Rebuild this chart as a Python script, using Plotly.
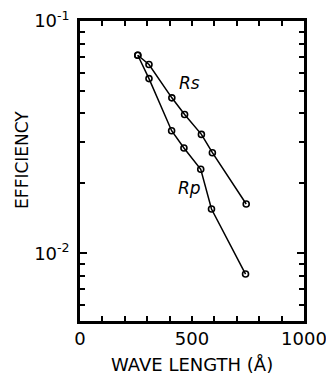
import plotly.graph_objects as go

# Data (wavelength in Angstrom, efficiency)
wave_rs = [258, 308, 410, 467, 542, 591, 742]
eff_rs = [0.0712, 0.0650, 0.0467, 0.0396, 0.0325, 0.0271, 0.0163]
wave_rp = [258, 308, 409, 464, 539, 587, 739]
eff_rp = [0.0712, 0.0565, 0.0337, 0.0284, 0.0230, 0.0155, 0.00814]

x_tickvals = [0, 500, 1000]
x_ticktext = ["0", "500", "1000"]
x_minorvals = [100, 200, 300, 400, 600, 700, 800, 900]
y_tickvals = [0.01, 0.1]
y_ticktext = ["10<sup>-2</sup>", "10<sup>-1</sup>"]
y_minorvals = [0.006, 0.007, 0.008, 0.009, 0.02, 0.03, 0.04, 0.05,
               0.06, 0.07, 0.08, 0.09]

FONT = "DejaVu Sans"

fig = go.Figure()
for xs, ys in [(wave_rs, eff_rs), (wave_rp, eff_rp)]:
    fig.add_trace(go.Scatter(
        x=xs, y=ys, mode="lines+markers",
        line=dict(color="black", width=1.5),
        marker=dict(symbol="circle-open", size=6, color="black",
                    line=dict(width=1.6, color="black")),
        showlegend=False, cliponaxis=False,
    ))

# The page body has an 8px default margin, so the figure is 8px smaller
fig.update_layout(
    width=326, height=368,
    margin=dict(l=72, r=30, t=13, b=55, autoexpand=False),
    paper_bgcolor="white", plot_bgcolor="white",
    font=dict(family=FONT, color="black", size=16),
    xaxis=dict(
        range=[0, 1000], tickvals=x_tickvals, ticktext=x_ticktext, tickangle=0,
        ticks="inside", ticklen=5, tickwidth=1.5, tickcolor="black",
        minor=dict(tickmode="array", tickvals=x_minorvals, ticks="inside",
                   ticklen=5, tickwidth=1.5, tickcolor="black", showgrid=False),
        showline=True, linewidth=2.5, linecolor="black", mirror="ticks",
        showgrid=False, zeroline=False, automargin=False,
        ticklabeloverflow="allow",
        tickfont=dict(family=FONT, size=18),
    ),
    yaxis=dict(
        type="log", range=[-2.2916, -0.9999], tickvals=y_tickvals, ticktext=y_ticktext,
        ticks="inside", ticklen=7, tickwidth=1.5, tickcolor="black",
        minor=dict(tickmode="array", tickvals=y_minorvals, ticks="inside",
                   ticklen=5, tickwidth=1.5, tickcolor="black", showgrid=False),
        showline=True, linewidth=2.5, linecolor="black", mirror="ticks",
        showgrid=False, zeroline=False, automargin=False, ticklabelstandoff=4,
        ticklabeloverflow="allow",
        tickfont=dict(family=FONT, size=18),
    ),
    annotations=[
        dict(text="WAVE LENGTH (Å)", xref="paper", yref="paper",
             x=0.50, y=-0.145, showarrow=False,
             font=dict(family=FONT, size=18), xanchor="center", yanchor="middle"),
        dict(text="EFFICIENCY", xref="paper", yref="paper",
             x=-0.259, y=0.537, showarrow=False, textangle=-90,
             font=dict(family=FONT, size=17), xanchor="center", yanchor="middle"),
        dict(text="Rs", x=489, y=-1.266, xref="x", yref="y", showarrow=False,
             font=dict(family=FONT, size=17, style="italic")),
        dict(text="Rp", x=491, y=-1.72, xref="x", yref="y", showarrow=False,
             font=dict(family=FONT, size=17, style="italic")),
    ],
)

fig.write_html("out.html")
